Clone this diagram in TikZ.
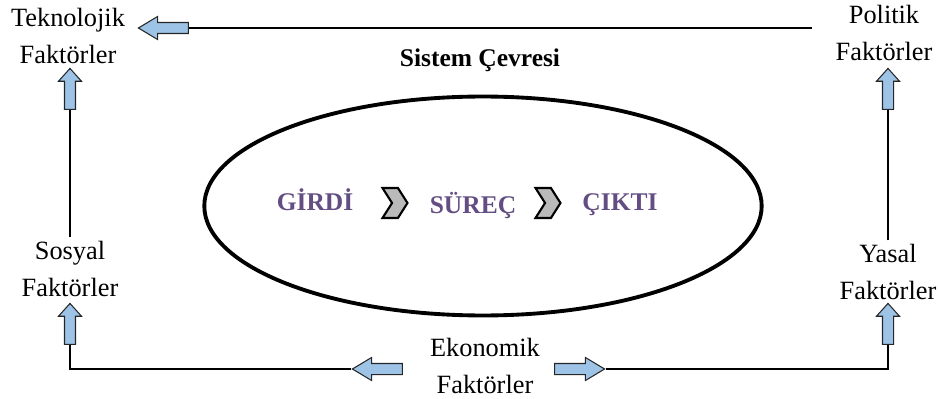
\documentclass[tikz,border=0pt]{standalone}
\usepackage{fontspec}
\setmainfont{Liberation Serif}
\usepackage{tikz}
\usetikzlibrary{shapes.geometric, shapes.arrows, shapes.symbols}

\definecolor{okmavi}{RGB}{157,195,230}
\definecolor{surecmor}{RGB}{98,78,130}

\tikzset{
  lbl/.style={align=center, font=\fontsize{15}{21}\selectfont, inner sep=2pt},
  akis/.style={font=\fontsize{14.5}{17}\selectfont\bfseries, text=surecmor, anchor=base},
  okblok/.style={single arrow, draw=black!85, fill=okmavi, line width=0.6pt, inner xsep=0pt, inner ysep=0.1cm, single arrow head extend=0.12cm},
  yatayok/.style={okblok, minimum height=1cm, single arrow tip angle=62},
  dikok/.style={okblok, rotate=90, minimum height=0.82cm, single arrow tip angle=84},
  kose/.style={signal, signal from=west, signal to=east, signal pointer angle=115, draw, line width=1.2pt, fill=black!27, minimum width=0.5cm, minimum height=0.6cm, inner sep=0pt},
  baglanti/.style={line width=1.5pt}
}

\begin{document}
\begin{tikzpicture}[x=0.02cm, y=-0.02cm]
    \useasboundingbox (0,0) rectangle (938,399);

    % faktorler
    \node (tek) [lbl] at (68,36) {Teknolojik\\Faktörler};
    \node (pol) [lbl] at (884,33) {Politik\\Faktörler};
    \node (sos) [lbl] at (70,269) {Sosyal\\Faktörler};
    \node (yas) [lbl] at (888,272) {Yasal\\Faktörler};
    \node (eko) [lbl] at (485,366) {Ekonomik\\Faktörler};

    % sistem
    \node (cevre) [draw, ellipse, line width=2.2pt, minimum width=11.15cm, minimum height=4.38cm] at (483,206) {};
    \node (baslik) [font=\fontsize{14.5}{17}\selectfont\bfseries, anchor=base] at (480,67) {Sistem Çevresi};
    \node (girdi) [akis] at (315,210) {GİRDİ};
    \node (k1) [kose] at (395,203) {};
    \node (surec) [akis] at (473,213) {SÜREÇ};
    \node (k2) [kose] at (548,203) {};
    \node (cikti) [akis] at (620,210) {ÇIKTI};

    % oklar
    \node (tekL) [yatayok, rotate=180] at (168,28) {};
    \node (tekUp) [dikok] at (70,92) {};
    \node (polUp) [dikok] at (888,92) {};
    \node (sosUp) [dikok] at (70,327) {};
    \node (yasUp) [dikok] at (888,327) {};
    \node (ekoL) [yatayok, rotate=180] at (382,369) {};
    \node (ekoR) [yatayok] at (575,369) {};
    \coordinate (polUc) at (812,28);

    \draw[baglanti] (tekL.tail) -- (polUc);
    \draw[baglanti] (sos.north) -- (tekUp.tail);
    \draw[baglanti] (yas.north) -- (polUp.tail);
    \draw[baglanti] (ekoL.tip) -| (sosUp.tail);
    \draw[baglanti] (ekoR.tip) -| (yasUp.tail);
  \end{tikzpicture}
\end{document}
